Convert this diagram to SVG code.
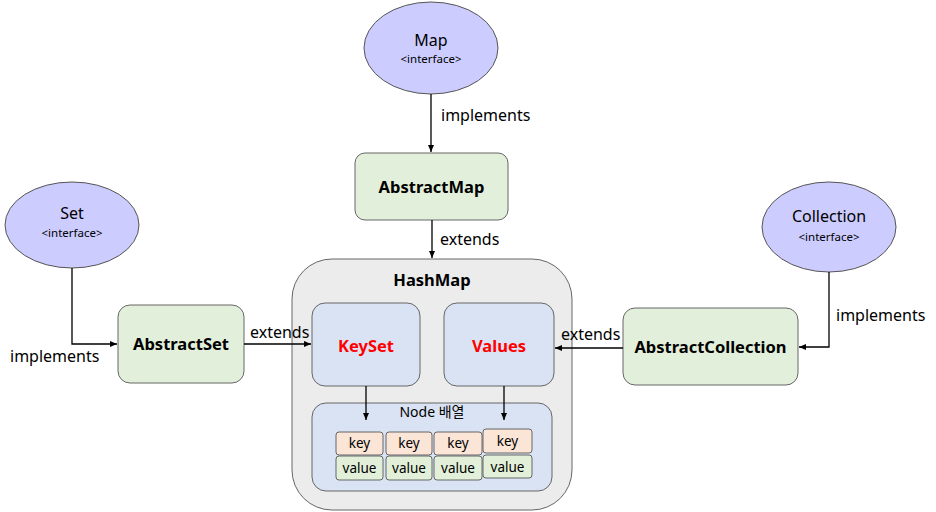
<svg xmlns="http://www.w3.org/2000/svg" width="936" height="512" viewBox="0 0 936 512">
<style>
text{font-family:"Noto Sans","Noto Sans CJK KR",sans-serif;fill:#000;}
.ell{fill:#ccccff;stroke:#555;stroke-width:1;}
.cls{fill:#e2efda;stroke:#666;stroke-width:1;}
.inner{fill:#dae3f3;stroke:#666;stroke-width:1;}
.key{fill:#fbe5d6;stroke:#666;stroke-width:1;}
.val{fill:#e2f0d9;stroke:#666;stroke-width:1;}
.nm{font-size:16px;text-anchor:middle;}
.it{font-size:11.5px;text-anchor:middle;}
.b{font-size:16.5px;font-weight:bold;text-anchor:middle;}
.red{fill:#ff0000;}
.lbl{font-size:16px;}
.sm{font-size:13.5px;text-anchor:middle;}
.cn{fill:none;stroke:#000;stroke-width:1.3;}
</style>
<defs>
<marker id="ah" markerWidth="8" markerHeight="8" refX="7" refY="4" orient="auto" markerUnits="userSpaceOnUse">
<path d="M0,1 L7,4 L0,7 Z" fill="#000"/>
</marker>
</defs>
<g id="hashmap">
<rect x="292" y="259" width="280" height="251" rx="40" fill="#ececec" stroke="#666"/>
<text class="b" x="432" y="286">HashMap</text>
</g>
<g id="keyset">
<rect class="inner" x="312" y="303" width="108" height="83" rx="13"/>
<text class="b red" x="366" y="352">KeySet</text>
</g>
<g id="values">
<rect class="inner" x="444" y="303" width="110" height="83" rx="13"/>
<text class="b red" x="499" y="352">Values</text>
</g>
<g id="nodearray">
<rect class="inner" x="312" y="403" width="240" height="88" rx="14"/>
<text x="432" y="417" font-size="14" text-anchor="middle">Node 배열</text>
<rect class="key" x="336" y="432" width="47" height="23" rx="3"/>
<text class="sm" x="359.5" y="448">key</text>
<rect class="val" x="336" y="456" width="47" height="24" rx="3"/>
<text class="sm" x="359.5" y="473">value</text>
<rect class="key" x="386" y="432" width="46" height="23" rx="3"/>
<text class="sm" x="409" y="448">key</text>
<rect class="val" x="386" y="456" width="46" height="24" rx="3"/>
<text class="sm" x="409" y="473">value</text>
<rect class="key" x="434" y="432" width="48" height="23" rx="3"/>
<text class="sm" x="458" y="448">key</text>
<rect class="val" x="434" y="456" width="48" height="24" rx="3"/>
<text class="sm" x="458" y="473">value</text>
<rect class="key" x="483" y="429" width="49" height="24" rx="3"/>
<text class="sm" x="507.5" y="446">key</text>
<rect class="val" x="483" y="455" width="49" height="23" rx="3"/>
<text class="sm" x="507.5" y="472">value</text>
</g>
<g id="map">
<ellipse class="ell" cx="431" cy="48" rx="67" ry="46"/>
<text class="nm" x="431" y="46">Map</text>
<text class="it" x="431" y="63">&lt;interface&gt;</text>
</g>
<g id="abstractmap">
<rect class="cls" x="355" y="153" width="153" height="67" rx="10"/>
<text class="b" x="431.5" y="193">AbstractMap</text>
</g>
<g id="set">
<ellipse class="ell" cx="72" cy="225" rx="67" ry="43"/>
<text class="nm" x="72" y="219">Set</text>
<text class="it" x="72" y="237">&lt;interface&gt;</text>
</g>
<g id="abstractset">
<rect class="cls" x="118" y="305" width="126" height="78" rx="12"/>
<text class="b" x="181" y="350">AbstractSet</text>
</g>
<g id="collection">
<ellipse class="ell" cx="829" cy="227" rx="67" ry="45"/>
<text class="nm" x="829" y="222">Collection</text>
<text class="it" x="829" y="241">&lt;interface&gt;</text>
</g>
<g id="abstractcollection">
<rect class="cls" x="623" y="308" width="175" height="77" rx="12"/>
<text class="b" x="710.5" y="353">AbstractCollection</text>
</g>
<g id="connectors">
<path class="cn" d="M431,94 L431,152" marker-end="url(#ah)"/>
<text class="lbl" x="441" y="121">implements</text>
<path class="cn" d="M432,220 L432,258" marker-end="url(#ah)"/>
<text class="lbl" x="440" y="245">extends</text>
<path class="cn" d="M72,268 L72,344 L117,344" marker-end="url(#ah)"/>
<text class="lbl" x="10" y="362">implements</text>
<path class="cn" d="M244,344 L311,344" marker-end="url(#ah)"/>
<text class="lbl" x="250" y="338">extends</text>
<path class="cn" d="M829,272 L829,347 L799,347" marker-end="url(#ah)"/>
<text class="lbl" x="836" y="321">implements</text>
<path class="cn" d="M623,348 L555,348" marker-end="url(#ah)"/>
<text class="lbl" x="561" y="340">extends</text>
<path class="cn" d="M366,386 L366,420" marker-end="url(#ah)"/>
<path class="cn" d="M504,386 L504,420" marker-end="url(#ah)"/>
</g>
</svg>
